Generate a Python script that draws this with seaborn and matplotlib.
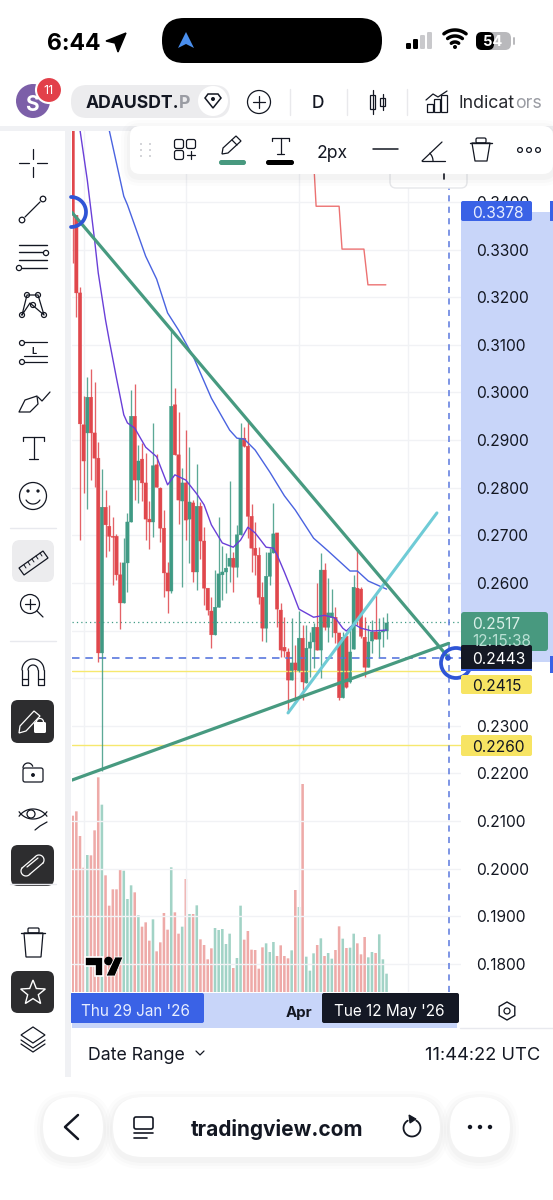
import numpy as np
import pandas as pd
import seaborn as sns
import matplotlib
matplotlib.use('Agg')
import matplotlib.pyplot as plt
from matplotlib.patches import FancyBboxPatch, Circle, Rectangle, Polygon

# candles, one per day from 29 Jan 2026
opens = [.3800,.3372,.3209,.2932,.2915,.2990,.2915,.2862,.2453,.2759,.2719,.2698,.2698,.2617,.2558,.2642,.2728,.2950,.2816,.2860,
         .2810,.2734,.2728,.2848,.2799,.2715,.2621,.2583,.2974,.2869,.2772,.2810,.2734,.2768,.2623,.2761,.2688,.2589,.2541,.2491,
         .2549,.2617,.2623,.2635,.2652,.2633,.2701,.2904,.2887,.2740,.2673,.2658,.2570,.2505,.2614,.2663,.2705,.2543,.2465,.2455,
         .2396,.2432,.2415,.2484,.2390,.2463,.2476,.2507,.2459,.2627,.2507,.2527,.2528,.2495,.2359,.2488,.2392,.2461,.2589,.2587,
         .2486,.2423,.2478,.2497,.2482,.2497,.2499]
highs = [.3900,.3372,.3221,.2992,.3032,.3049,.3022,.2896,.2839,.2795,.2764,.2738,.2703,.2644,.2694,.2747,.3005,.3018,.2890,.2894,
         .2873,.2772,.2936,.2871,.2801,.2753,.2644,.3131,.3009,.2959,.2841,.2921,.2885,.2774,.2850,.2770,.2717,.2589,.2570,.2627,
         .2738,.2677,.2663,.2814,.2665,.2722,.2936,.2927,.2942,.2766,.2728,.2675,.2602,.2665,.2673,.2768,.2705,.2558,.2528,.2463,
         .2526,.2469,.2541,.2512,.2512,.2497,.2516,.2600,.2663,.2642,.2610,.2587,.2549,.2495,.2497,.2495,.2510,.2617,.2671,.2591,
         .2528,.2512,.2522,.2575,.2526,.2528,.2537]
lows = [.3272,.3158,.2690,.2789,.2755,.2816,.2801,.2434,.2205,.2654,.2667,.2596,.2606,.2503,.2558,.2581,.2728,.2774,.2768,.2772,
        .2690,.2671,.2696,.2801,.2686,.2570,.2537,.2579,.2869,.2724,.2591,.2690,.2642,.2602,.2585,.2650,.2554,.2532,.2463,.2491,
        .2549,.2564,.2579,.2602,.2581,.2612,.2701,.2885,.2694,.2623,.2617,.2556,.2478,.2476,.2596,.2663,.2507,.2444,.2444,.2327,
        .2396,.2348,.2413,.2354,.2390,.2402,.2421,.2459,.2400,.2501,.2476,.2486,.2474,.2354,.2359,.2379,.2390,.2461,.2512,.2484,
        .2402,.2423,.2453,.2482,.2444,.2465,.2482]
closes = [.3372,.3209,.2934,.2856,.2990,.2915,.2862,.2453,.2759,.2722,.2698,.2696,.2617,.2558,.2642,.2728,.2950,.2816,.2856,.2810,
          .2734,.2728,.2846,.2801,.2715,.2621,.2583,.2971,.2869,.2774,.2810,.2732,.2770,.2623,.2761,.2688,.2589,.2543,.2491,.2549,
          .2619,.2623,.2631,.2652,.2633,.2701,.2904,.2887,.2740,.2673,.2658,.2570,.2505,.2614,.2663,.2703,.2545,.2459,.2457,.2396,
          .2432,.2417,.2484,.2392,.2463,.2476,.2507,.2459,.2627,.2507,.2537,.2537,.2495,.2359,.2486,.2381,.2455,.2591,.2522,.2488,
          .2423,.2476,.2497,.2482,.2497,.2499,.2516]
volumes = [529,542,468,373,411,410,485,644,562,350,259,308,308,369,364,279,320,299,230,196,
           209,154,218,122,149,237,187,374,239,175,196,339,234,234,260,158,141,98,131,192,
           186,189,144,175,72,102,259,157,183,127,126,70,134,146,120,150,108,140,108,101,
           125,306,255,624,106,64,116,141,161,108,117,100,126,197,160,132,133,175,146,113,
           165,104,120,117,173,98,55]

# moving averages and the stepped red line
ma_fast_days = [2,4,6,7,9,10,12,14,15,17,20,23,26,28,31,34,36,38,41,44,46,48,50,53,55,56,58,60,62,66,69,72,74,75,77,79,82,86]
ma_fast = [.3551,.3446,.3320,.3251,.3152,.3110,.3030,.2953,.2936,.2925,.2885,.2865,.2806,.2827,.2816,.2787,.2764,.2722,.2684,
           .2675,.2690,.2717,.2705,.2675,.2673,.2659,.2623,.2585,.2545,.2528,.2532,.2526,.2505,.2499,.2514,.2505,.2499,.2501]
ma_slow_days = [8,10,14,15,20,23,26,29,33,38,43,45,47,50,54,58,61,66,70,76,78,81,86]
ma_slow = [.3680,.3551,.3412,.3394,.3286,.3238,.3167,.3131,.3076,.2988,.2921,.2904,.2902,.2879,.2833,.2783,.2753,.2694,.2667,
           .2625,.2625,.2604,.2587]
step_days = [65.5,66.7,73,73.8,79.8,80.9,85.8]
step_vals = [.3560,.3391,.3391,.3301,.3301,.3226,.3226]

# drawings
fall_days = [-0.2,103]
fall_vals = [.3378,.2443]
rise_days = [-0.2,103]
rise_vals = [.2186,.2473]
ray_days = [59,99.8]
ray_vals = [.2327,.2747]
price_ticks = [.18,.19,.20,.21,.22,.23,.24,.25,.26,.27,.28,.29,.30,.31,.32,.33,.34]
covered_ticks = [.24,.25]
month_days = [3,31,62,92]
month_labels = ['','','Apr','']

RED = '#e0474c'
GREEN = '#3f9a84'
BLUE = '#3a62e6'
DARK = '#141824'
PALE = '#c8d5f9'
YELLOW = '#f7e463'

sns.set_theme(style='white')
plt.rcParams['font.family'] = ['Inter', 'DejaVu Sans']

W, H = 553, 1200
fig = plt.figure(figsize=(W/100, H/100), dpi=100, facecolor='white')

def box(x0, y0, x1, y1):
    return [x0/W, 1-y1/H, (x1-x0)/W, (y1-y0)/H]

# layers, back to front
bg = fig.add_axes([0, 0, 1, 1], zorder=0)
axv = fig.add_axes(box(72, 770, 461, 992), zorder=1)
ax = fig.add_axes(box(72, 131, 461, 992), zorder=2)
ui = fig.add_axes([0, 0, 1, 1], zorder=3)
for a in (bg, ui):
    a.set_xlim(0, W)
    a.set_ylim(H, 0)
    a.axis('off')
ui.patch.set_alpha(0)

bg.add_patch(Rectangle((461, 212), 92, 450, color=PALE, lw=0))
bg.add_patch(Rectangle((72, 993), 385, 35, color=PALE, lw=0))

df = pd.DataFrame({'day': np.arange(len(opens)), 'open': opens, 'high': highs, 'low': lows,
                   'close': closes, 'volume': volumes})
df['dir'] = np.where(df['close'] >= df['open'], 'up', 'down')
xlim = (-0.19, 106.4)

# price pane (grid goes under the volume bars)
ax.patch.set_alpha(0)
for side in ('top', 'left', 'right', 'bottom'):
    ax.spines[side].set_visible(False)
ax.set_yticks(price_ticks, ['' if p in covered_ticks else f'{p:.4f}' for p in price_ticks])
ax.yaxis.tick_right()
ax.set_xticks(month_days, month_labels, fontweight='bold', fontsize=10.8, color='#131722')
ax.tick_params(axis='y', length=0, pad=11, labelsize=11.2, labelcolor='#131722')
ax.tick_params(axis='x', length=0, pad=10)
ax.grid(True, color='#f1f2f5', lw=1)
ax.set_axisbelow(True)

# volume pane, seaborn's default white edge would eat the thin bars
sns.barplot(data=df, x='day', y='volume', hue='dir', palette={'up': '#a2d3c6', 'down': '#eeaaa8'}, native_scale=True,
            dodge=False, width=0.7, saturation=1, legend=False, linewidth=0, edgecolor='none', ax=axv)
for bar in axv.patches:
    bar.set_snap(False)
axv.set_xlim(*xlim)
axv.set_ylim(0, 666)
axv.axis('off')

ax.axhline(.2415, color='#f6e86e', lw=1)
ax.axhline(.2260, color='#f6e86e', lw=1)
ax.axhline(.2517, color=GREEN, lw=0.9, ls=(0, (1, 2.5)))
ax.axhline(.2443, color='#5a78de', lw=1.2, ls=(0, (4.5, 3.5)))
ax.axvline(103, color='#5a78de', lw=1.1, ls=(0, (4, 3.5)))

for d, c in (('up', GREEN), ('down', RED)):
    part = df[df['dir'] == d]
    ax.vlines(part['day'], part['low'], part['high'], color=c, lw=0.95, alpha=0.85)
    ax.bar(part['day'], part['close']-part['open'], bottom=part['open'], width=0.92, color=c, lw=0.3, edgecolor=c, snap=False)

sns.lineplot(x=ma_fast_days, y=ma_fast, color='#6a3fd8', lw=1.0, ax=ax)
sns.lineplot(x=ma_slow_days, y=ma_slow, color='#4a63e0', lw=1.0, ax=ax)
sns.lineplot(x=step_days, y=step_vals, sort=False, color='#ec7272', lw=1.0, ax=ax)
sns.lineplot(x=ray_days, y=ray_vals, color='#6fcbd6', lw=2.2, ax=ax)
sns.lineplot(x=fall_days, y=fall_vals, color='#479a80', lw=2.3, ax=ax)
sns.lineplot(x=rise_days, y=rise_vals, color='#479a80', lw=2.3, ax=ax)
ax.set_xlim(*xlim)
ax.set_ylim(.1741, .3549)
ax.set_xlabel('')
ax.set_ylabel('')


# overlay helpers, all in screen pixels
def seg(xs, ys, lw=0.9, c='#131722', **kw):
    ui.plot(xs, ys, color=c, lw=lw, solid_capstyle=kw.pop('cap', 'round'), **kw)


def arc(cx, cy, r, t0, t1, lw=0.9, c='#131722'):
    t = np.radians(np.linspace(t0, t1, 40))
    seg(cx+r*np.cos(t), cy+r*np.sin(t), lw=lw, c=c)


def rbox(x0, y0, x1, y1, r=4, fc='white', ec='none', lw=0, **kw):
    ui.add_patch(FancyBboxPatch((x0+r, y0+r), x1-x0-2*r, y1-y0-2*r, boxstyle=f'round,pad={r}', fc=fc, ec=ec, lw=lw, **kw))


def ring(cx, cy, r, lw=0.9, c='#131722', fc='none'):
    ui.add_patch(Circle((cx, cy), r, fc=fc, ec=c, lw=lw))


def txt(x, y, s, size=11.2, c='#131722', ha='left', weight='normal', **kw):
    ui.text(x, y, s, fontsize=size, color=c, ha=ha, va='center_baseline', fontweight=weight, **kw)


def soft(x0, y0, x1, y1, r):
    for grow, a in ((9, .012), (6, .016), (3, .02)):
        rbox(x0-grow, y0-grow+3, x1+grow, y1+grow+3, r=r+grow, fc='black', alpha=a)
    rbox(x0, y0, x1, y1, r=r)


# anchor handles of the trend lines
arc(71, 212, 15, -90, 90, lw=2.7, c='#2f55d6')
ring(456, 663, 15, lw=2.7, c='#2f55d6')
ring(448, 658, 2.8, lw=0, c='none', fc='#2f55d6')

# TradingView mark
ui.add_patch(Polygon([(85, 957), (103, 957), (103, 976), (95, 976), (95, 966), (85, 966)], fc='black', ec='white', lw=1.2))
ring(108.5, 961, 4.3, lw=0, c='none', fc='black')
ui.add_patch(Polygon([(115, 957), (123, 957), (115, 976), (106, 976)], fc='black', ec='white', lw=0.6))

# price labels
ui.add_patch(Rectangle((550, 201), 3, 20, color=BLUE, lw=0))
ui.add_patch(Rectangle((550, 656), 3, 17, color=BLUE, lw=0))
rbox(461, 201, 532, 221, r=2, fc=BLUE)
txt(472, 212, '0.3378', c='#e8eeff')
rbox(461, 612, 548, 651, r=3, fc='#48997f')
txt(472, 623, '0.2517', c='#d9efe8')
txt(472, 640, '12:15:38', c='#b9e0d4', size=11)
rbox(461, 645, 532, 670, r=2, fc=DARK)
ui.add_patch(Rectangle((461, 669), 71, 2, color=BLUE, lw=0))
txt(472, 658, '0.2443', c='white')
rbox(461, 675, 532, 694, r=2, fc=YELLOW)
txt(472, 685, '0.2415')
rbox(461, 735, 532, 756, r=2, fc=YELLOW)
txt(472, 746, '0.2260')

# time scale labels
rbox(70, 993, 204, 1023, r=2, fc=BLUE)
txt(81, 1010, "Thu 29 Jan '26", c='#e8eeff', size=11)
rbox(322, 993, 459, 1023, r=2, fc=DARK)
txt(334, 1010, "Tue 12 May '26", c='white', size=11)
t = np.radians(np.arange(30, 390, 60))
ui.add_patch(Polygon(np.c_[507+9*np.cos(t), 1011+9*np.sin(t)], fc='none', ec='#131722', lw=1))
ring(507, 1011, 3)

# header and panels
ui.add_patch(Rectangle((0, 0), W, 126, color='white', lw=0))
ui.add_patch(Rectangle((0, 126), W, 5, color='#f0f1f4', lw=0))
ui.add_patch(Rectangle((0, 131), 65, 946, color='white', lw=0))
ui.add_patch(Rectangle((65, 131), 6, 946, color='#f0f1f4', lw=0))
ui.add_patch(Rectangle((71, 1028), W-71, 172, color='white', lw=0))
ui.add_patch(Rectangle((0, 1077), 71, 123, color='white', lw=0))
seg([460, W], [1028, 1028], c='#e8e9ee', lw=1)

# status bar
txt(47, 41, '6:44', size=16.5, weight='bold', c='black')
ui.add_patch(Polygon([(106, 41), (126, 33), (118, 52), (115, 43)], fc='black', ec='black', lw=1))
rbox(162, 18, 382, 63, r=22, fc='black')
ui.add_patch(Polygon([(186, 32), (194, 48), (186, 44), (178, 48)], fc='#4a8fee', lw=0))
for i, c in enumerate(['black', 'black', '#c9c9cc', '#c9c9cc']):
    h = [6, 10, 14, 17][i]
    rbox(406+7*i, 49-h, 411+7*i, 49, r=1.2, fc=c)
for r in (6, 12, 18):
    arc(455, 48, r, 232, 308, lw=2.5, c='black')
ring(455, 47, 2, lw=0, c='none', fc='black')
rbox(476, 32, 511, 50, r=6, fc='#b9b9bc')
rbox(476, 32, 494, 50, r=6, fc='black')
txt(493, 41, '54', size=10.5, weight='bold', c='white', ha='center')
seg([514, 514], [38, 44], lw=1.4, c='#b9b9bc')

# symbol row
ring(33, 101, 17, lw=0, c='none', fc='#7c5fa8')
txt(32, 103, 'S', size=15, weight='bold', c='white', ha='center')
ring(49, 90, 13, lw=1.5, c='white', fc='#e2404a')
txt(49, 90, '11', size=9, c='white', ha='center')
rbox(71, 85, 230, 118, r=16, fc='#ececee')
txt(86, 102, 'ADAUSDT.', size=12.7, weight='bold')
txt(179, 102, 'P', size=12.7, weight='bold', c='#9a9ca3')
ring(213, 101, 15, lw=0, c='none', fc='white')
ui.add_patch(Polygon([(205, 98), (208, 94), (218, 94), (221, 98), (213, 108)], fc='none', ec='#131722', lw=1.1))
ring(213, 99, 2, lw=0, c='none', fc='#131722')
ring(259, 102, 11.5)
seg([253, 265], [102, 102])
seg([259, 259], [96, 108])
for x in (290, 347, 407):
    seg([x, x], [89, 115], c='#e9e9ec', lw=1)
txt(318, 102, 'D', size=12.5, ha='center', weight='medium')
ui.add_patch(Rectangle((370, 95), 5, 14, fc='none', ec='#131722', lw=0.9))
ui.add_patch(Rectangle((380, 98), 5, 8, fc='none', ec='#131722', lw=0.9))
seg([372.5, 372.5], [90, 114])
seg([382.5, 382.5], [94, 110])
for x, h in ((427, 8), (434, 13), (441, 17)):
    ui.add_patch(Rectangle((x, 112-h), 6, h, fc='none', ec='#131722', lw=0.9))
seg([426, 433, 438, 447], [100, 94, 97, 91])
txt(459, 102, 'Indicat', size=12.8, c='#26282e')
txt(515, 102, 'ors', size=12.8, c='#9a9ca3')

# drawing toolbar
rbox(390, 150, 467, 188, r=6, ec='#e6e7ea', lw=1)
seg([444, 444], [174, 179], lw=1.2)
soft(130, 126, 553, 174, 10)
for x in (141, 150):
    for y in (144, 150, 156):
        ring(x, y, 0.9, lw=0, c='none', fc='#bcbec4')
for x, y in ((179, 144), (191, 144), (179, 155)):
    rbox(x-4.5, y-4.5, x+4.5, y+4.5, r=2, fc='none', ec='#131722', lw=0.9)
seg([187, 195], [155, 155])
seg([191, 191], [151, 159])
ui.add_patch(Polygon([(223, 148), (236, 136), (241, 141), (228, 153), (222, 154)], fc='none', ec='#131722', lw=0.9))
seg([232, 237], [140, 145])
rbox(219, 160, 246, 165, r=2.4, fc='#48997f')
seg([272, 289], [138, 138])
seg([272, 272], [138, 141])
seg([289, 289], [138, 141])
seg([280.5, 280.5], [138, 154])
seg([277, 284], [154, 154])
rbox(266, 160, 294, 165, r=2.4, fc='black')
txt(332, 151, '2px', size=12.6, ha='center')
seg([373, 398], [149, 149], lw=1.1)
seg([422, 445], [161, 161])
seg([422, 442], [161, 142])
arc(422, 161, 11, -45, 0)
ui.add_patch(Polygon([(472, 143), (490, 143), (487, 161), (475, 161)], fc='none', ec='#131722', lw=0.9, joinstyle='round'))
seg([470, 492], [143, 143], lw=1)
rbox(476, 138, 486, 143, r=1.5, fc='none', ec='#131722', lw=0.9)
for x in (520, 529, 538):
    ring(x, 150, 2.4)

# left tools
seg([19, 29], [163, 163]); seg([37, 47], [163, 163])
seg([33, 33], [149, 159]); seg([33, 33], [167, 177])
seg([25, 40], [217, 202])
ring(22, 220, 2.8, fc='white'); ring(43, 199, 2.8, fc='white')
for y, x0, x1 in ((245, 19, 47), (252, 19, 43), (260, 19, 47), (268, 22, 47)):
    seg([x0, x1], [y, y], lw=1)
ring(46, 253, 2.6, fc='white'); ring(19, 268, 2.6, fc='white')
seg([22, 27, 38, 44, 30, 22], [315, 295, 295, 315, 303, 315])
for x, y in ((22, 315), (27, 295), (38, 295), (44, 315), (33, 305)):
    ring(x, y, 2.5, fc='white')
seg([24, 47], [342, 342]); seg([24, 47], [362, 362]); seg([24, 47], [356, 356])
ring(22, 343, 2.5, fc='white'); ring(22, 362, 2.5, fc='white')
txt(33.5, 350, 'L', size=6.5, ha='center', weight='bold')
ui.add_patch(Polygon([(19, 412), (25, 400), (37, 396), (38, 404), (30, 412)], fc='none', ec='#131722', lw=0.9, joinstyle='round'))
seg([38, 42, 50], [397, 401, 392])
seg([23, 44], [437, 437]); seg([23, 23], [437, 441]); seg([44, 44], [437, 441])
seg([33.5, 33.5], [437, 459]); seg([29, 38], [459, 459])
ring(33, 496, 13.5)
ring(28, 491, 1.0, fc='#131722'); ring(38, 491, 1.0, fc='#131722')
arc(33, 496, 8, 30, 150)
seg([10, 56], [528, 528], c='#e8e9ee', lw=1)
rbox(12, 540, 54, 582, r=8, fc='#ececee')
ui.add_patch(Polygon([(19, 568), (43, 551), (48, 558), (24, 575)], fc='none', ec='#131722', lw=0.9))
for i in range(5):
    seg([24+4*i, 26+4*i], [565-3*i, 568-3*i], lw=0.7)
ring(30, 604, 9.5)
seg([25, 35], [604, 604]); seg([30, 30], [599, 609]); seg([37, 43], [611, 617])
seg([10, 56], [641, 641], c='#e8e9ee', lw=1)
arc(33, 670, 11, 180, 360); arc(33, 670, 5, 180, 360)
seg([22, 22, 28, 28], [670, 685, 685, 670]); seg([38, 38, 44, 44], [670, 685, 685, 670])
seg([22, 28], [679, 679]); seg([38, 44], [679, 679])
for y0, y1 in ((700, 743), (845, 886), (971, 1013)):
    rbox(11, y0, 54, y1, r=7, fc='#2d2d2f')
ui.add_patch(Polygon([(19, 733), (20, 726), (34, 711), (40, 716), (26, 731)], fc='none', ec='white', lw=0.9))
rbox(34, 722, 46, 733, r=1.5, fc='white')
arc(40, 722, 3.5, 180, 360, c='white')
arc(26, 871, 5, 40, 220, c='white'); arc(39, 860, 5, 220, 400, c='white')
seg([22, 35], [868, 857], c='white'); seg([30, 43], [874, 863], c='white'); seg([27, 38], [867, 858], c='white')
rbox(23, 768, 43, 782, r=2, fc='none', ec='#131722', lw=0.9)
arc(28, 768, 5, 180, 340)
ring(33, 775, 1.3, fc='#131722')
arc(33, 826, 17, 215, 325); arc(33, 802, 17, 35, 145)
ring(31, 814, 4)
seg([35, 40, 47], [830, 826, 822])
seg([10, 56], [884, 884], c='#e8e9ee', lw=1)
ui.add_patch(Polygon([(24, 933), (43, 933), (41, 957), (26, 957)], fc='none', ec='#131722', lw=0.9))
seg([21, 45], [933, 933], lw=1)
rbox(28, 928, 39, 933, r=1.2, fc='none', ec='#131722', lw=0.9)
t = np.radians(np.arange(-90, 270, 36))
rr = np.where(np.arange(10) % 2 == 0, 13, 5.6)
ui.add_patch(Polygon(np.c_[33+rr*np.cos(t), 993+rr*np.sin(t)], fc='none', ec='white', lw=1))
ui.add_patch(Polygon([(21, 1035), (33, 1027), (45, 1035), (33, 1043)], fc='none', ec='#131722', lw=0.9))
seg([21, 33, 45], [1040, 1048, 1040])
seg([21, 33, 45], [1044, 1052, 1044])

# footer
txt(88, 1053, 'Date Range', size=12.8)
seg([196, 200, 204], [1051, 1055, 1051])
txt(540, 1053, '11:44:22 UTC', size=13.2, ha='right')
soft(43, 1097, 103, 1157, 29.5)
soft(113, 1097, 440, 1157, 29.5)
soft(450, 1097, 510, 1157, 29.5)
seg([78, 65, 78], [1115, 1127, 1139], lw=1.8)
rbox(134, 1117, 153, 1129, r=2, fc='none', ec='#131722', lw=1.2)
seg([134, 153], [1133, 1133], lw=1.2)
seg([134, 147], [1138, 1138], lw=1.2)
txt(277, 1127, 'tradingview.com', size=15, weight='bold', ha='center')
arc(412, 1128, 8.5, -60, 240, lw=1.3)
ui.add_patch(Polygon([(409, 1115), (416, 1119), (410, 1123)], fc='#131722', ec='#131722', lw=0.8))
for x in (470, 480, 490):
    ring(x, 1127, 2.2, lw=0, c='none', fc='#131722')

fig.savefig('out.png', dpi=100)
